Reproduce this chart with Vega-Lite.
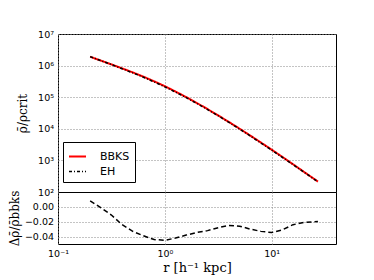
{
  "$schema": "https://vega.github.io/schema/vega-lite/v6.json",
  "padding": {"left": 7, "top": 28, "right": 5, "bottom": 5},
  "background": "white",
  "bounds": "flush",
  "config": {
    "view": {"stroke": "black", "strokeWidth": 1},
    "font": "DejaVu Sans",
    "axis": {
      "grid": true, "gridColor": "#888888", "gridDash": [1, 2], "gridWidth": 1,
      "domain": false, "ticks": false, "labelFont": "DejaVu Sans", "labelFontSize": 9.5,
      "labelColor": "black", "labelPadding": 4.5, "titleFont": "DejaVu Serif",
      "titleFontWeight": "normal", "titleFontSize": 12, "titleColor": "black", "labelFlush": false
    },
    "legend": {
      "strokeColor": "black", "fillColor": "white",
      "padding": 5, "cornerRadius": 0, "labelFont": "DejaVu Sans", "labelFontSize": 11,
      "labelColor": "black", "symbolType": "stroke", "symbolSize": 289, "symbolStrokeWidth": 2,
      "rowPadding": 0, "labelOffset": 13
    }
  },
  "datasets": {
    "profile": [
      {"r": 0.2, "rho": 1905000, "model": "BBKS"},
      {"r": 0.251, "rho": 1445000, "model": "BBKS"},
      {"r": 0.316, "rho": 1091000, "model": "BBKS"},
      {"r": 0.398, "rho": 818000, "model": "BBKS"},
      {"r": 0.501, "rho": 608000, "model": "BBKS"},
      {"r": 0.631, "rho": 445000, "model": "BBKS"},
      {"r": 0.794, "rho": 318000, "model": "BBKS"},
      {"r": 1.0, "rho": 222000, "model": "BBKS"},
      {"r": 1.259, "rho": 151000, "model": "BBKS"},
      {"r": 1.585, "rho": 100500, "model": "BBKS"},
      {"r": 1.995, "rho": 65500, "model": "BBKS"},
      {"r": 2.512, "rho": 41900, "model": "BBKS"},
      {"r": 3.162, "rho": 26400, "model": "BBKS"},
      {"r": 3.981, "rho": 16400, "model": "BBKS"},
      {"r": 5.012, "rho": 10050, "model": "BBKS"},
      {"r": 6.31, "rho": 6095, "model": "BBKS"},
      {"r": 7.943, "rho": 3664, "model": "BBKS"},
      {"r": 10.0, "rho": 2183, "model": "BBKS"},
      {"r": 12.59, "rho": 1288, "model": "BBKS"},
      {"r": 15.85, "rho": 753, "model": "BBKS"},
      {"r": 19.95, "rho": 438, "model": "BBKS"},
      {"r": 27.1, "rho": 214, "model": "BBKS"},
      {"r": 0.2, "rho": 1920000, "model": "EH"},
      {"r": 0.251, "rho": 1444000, "model": "EH"},
      {"r": 0.316, "rho": 1079000, "model": "EH"},
      {"r": 0.398, "rho": 798000, "model": "EH"},
      {"r": 0.501, "rho": 588000, "model": "EH"},
      {"r": 0.631, "rho": 428000, "model": "EH"},
      {"r": 0.794, "rho": 304000, "model": "EH"},
      {"r": 1.0, "rho": 212000, "model": "EH"},
      {"r": 1.259, "rho": 144700, "model": "EH"},
      {"r": 1.585, "rho": 96700, "model": "EH"},
      {"r": 1.995, "rho": 63200, "model": "EH"},
      {"r": 2.512, "rho": 40600, "model": "EH"},
      {"r": 3.162, "rho": 25700, "model": "EH"},
      {"r": 3.981, "rho": 16000, "model": "EH"},
      {"r": 5.012, "rho": 9790, "model": "EH"},
      {"r": 6.31, "rho": 5912, "model": "EH"},
      {"r": 7.943, "rho": 3543, "model": "EH"},
      {"r": 10.0, "rho": 2108, "model": "EH"},
      {"r": 12.59, "rho": 1248, "model": "EH"},
      {"r": 15.85, "rho": 735, "model": "EH"},
      {"r": 19.95, "rho": 429, "model": "EH"},
      {"r": 27.1, "rho": 210, "model": "EH"}
    ],
    "resid": [
      {"r": 0.2, "delta": 0.008},
      {"r": 0.251, "delta": -0.001},
      {"r": 0.316, "delta": -0.011},
      {"r": 0.398, "delta": -0.024},
      {"r": 0.501, "delta": -0.033},
      {"r": 0.631, "delta": -0.039},
      {"r": 0.794, "delta": -0.044},
      {"r": 1.0, "delta": -0.045},
      {"r": 1.259, "delta": -0.042},
      {"r": 1.585, "delta": -0.038},
      {"r": 1.995, "delta": -0.0345},
      {"r": 2.512, "delta": -0.032},
      {"r": 3.162, "delta": -0.028},
      {"r": 3.981, "delta": -0.025},
      {"r": 5.012, "delta": -0.026},
      {"r": 6.31, "delta": -0.03},
      {"r": 7.943, "delta": -0.033},
      {"r": 10.0, "delta": -0.0345},
      {"r": 12.59, "delta": -0.031},
      {"r": 15.85, "delta": -0.024},
      {"r": 19.95, "delta": -0.021},
      {"r": 27.1, "delta": -0.0197}
    ]
  },
  "spacing": 0,
  "vconcat": [
    {
      "width": 278,
      "height": 158,
      "data": {"name": "profile"},
      "mark": {"type": "line", "clip": true},
      "encoding": {
        "x": {
          "field": "r", "type": "quantitative",
          "scale": {"type": "log", "domain": [0.1, 40], "nice": false},
          "axis": {"labels": false, "title": null, "values": [0.1, 1, 10], "labelPadding": 0}
        },
        "y": {
          "field": "rho", "type": "quantitative",
          "scale": {"type": "log", "domain": [100, 10000000], "nice": false},
          "axis": {
            "values": [100, 1000, 10000, 100000, 1000000, 10000000],
            "labelExpr": "'10' + ['⁰','¹','²','³','⁴','⁵','⁶','⁷'][round(log(datum.value)/LN10)]",
            "title": "ρ̄/ρcrit", "titlePadding": 8
          }
        },
        "color": {
          "field": "model", "type": "nominal",
          "scale": {"domain": ["BBKS", "EH"], "range": ["#ff0000", "#000000"]},
          "legend": {"orient": "none", "legendX": 5, "legendY": 108, "title": null}
        },
        "strokeDash": {
          "field": "model", "type": "nominal",
          "scale": {"domain": ["BBKS", "EH"], "range": [[1, 0], [3, 2, 1, 2]]},
          "legend": {"orient": "none", "legendX": 5, "legendY": 108, "title": null}
        },
        "strokeWidth": {
          "field": "model", "type": "ordinal",
          "scale": {"domain": ["BBKS", "EH"], "range": [2, 1.5]},
          "legend": null
        }
      }
    },
    {
      "width": 278,
      "height": 52,
      "data": {"name": "resid"},
      "mark": {"type": "line", "color": "black", "strokeWidth": 1.5, "strokeDash": [5, 3], "clip": true},
      "encoding": {
        "x": {
          "field": "r", "type": "quantitative",
          "scale": {"type": "log", "domain": [0.1, 40], "nice": false},
          "axis": {
            "values": [0.1, 1, 10],
            "labelExpr": "datum.value < 0.5 ? '10⁻¹' : (datum.value < 5 ? '10⁰' : '10¹')",
            "title": "r  [h⁻¹  kpc]", "titleFontSize": 13, "titlePadding": 3
          }
        },
        "y": {
          "field": "delta", "type": "quantitative",
          "scale": {"domain": [-0.05, 0.02], "nice": false, "zero": false},
          "axis": {
            "values": [0, -0.02, -0.04], "format": ".2f",
            "title": "Δρ̄/ρ̄bbks", "titlePadding": 3
          }
        }
      }
    }
  ]
}
